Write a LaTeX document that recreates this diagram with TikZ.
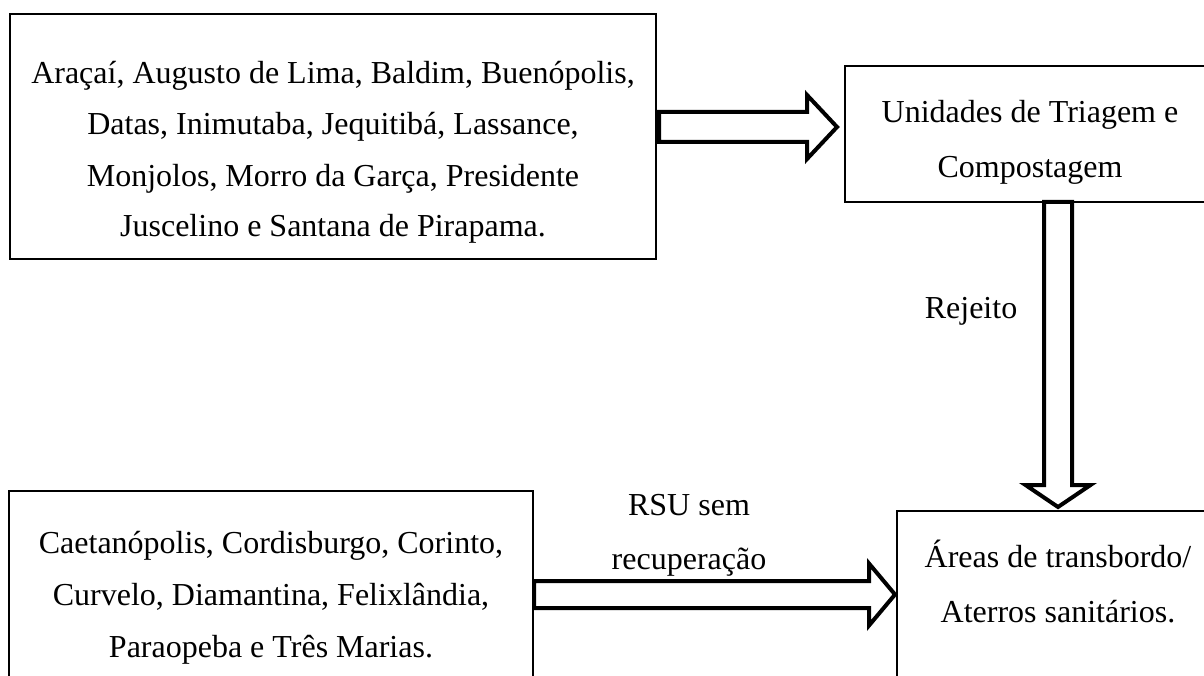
\documentclass[tikz,border=0pt]{standalone}
\usepackage{fontspec}
\setmainfont{Liberation Serif}
\usetikzlibrary{calc}

% horizontal block arrow: start, tip, half shaft width, half head width, head length
\newcommand\hblockarrow[5]{%
  \draw[blockarrow] ($(#1)+(0,-#3)$) -- ($(#2)+(-#5,-#3)$) -- ($(#2)+(-#5,-#4)$)
    -- (#2) -- ($(#2)+(-#5,#4)$) -- ($(#2)+(-#5,#3)$) -- ($(#1)+(0,#3)$) -- cycle;}
% vertical (downward) block arrow: start, tip, half shaft width, half head width, head length
\newcommand\vblockarrow[5]{%
  \draw[blockarrow] ($(#1)+(-#3,0)$) -- ($(#2)+(-#3,-#5)$) -- ($(#2)+(-#4,-#5)$)
    -- (#2) -- ($(#2)+(#4,-#5)$) -- ($(#2)+(#3,-#5)$) -- ($(#1)+(#3,0)$) -- cycle;}

\begin{document}
\begin{tikzpicture}[x=1pt,y=-1pt,
  box/.style={draw=black, line width=1.2pt, inner sep=0pt, outer sep=0pt, anchor=north west},
  txt/.style={inner sep=0pt, align=center, anchor=base},
  blockarrow/.style={draw=black, fill=white, line width=4pt, line join=miter, miter limit=10}]
  \useasboundingbox (0,0) rectangle (1204,676);
  \clip (0,0) rectangle (1204,676);

  % boxes
  \node[box, minimum width=646pt, minimum height=245pt] (b1) at (10,14) {};
  \node[box, minimum width=370pt, minimum height=136pt] (b2) at (845,66) {};
  \node[box, minimum width=524pt, minimum height=220pt] (b3) at (9,491) {};
  \node[box, minimum width=322pt, minimum height=220pt] (b4) at (897,511) {};

  % box texts (placed by the baseline of their last line)
  \node[txt, font=\fontsize{32pt}{51pt}\selectfont] (t1) at (333,237)
    {Araçaí, Augusto de Lima, Baldim, Buenópolis,\\Datas, Inimutaba, Jequitibá, Lassance,\\Monjolos, Morro da Garça, Presidente\\Juscelino e Santana de Pirapama.};
  \node[txt, font=\fontsize{32pt}{55pt}\selectfont] (t2) at (1030,178)
    {Unidades de Triagem e\\Compostagem};
  \node[txt, font=\fontsize{32pt}{52pt}\selectfont] (t3) at (271,657)
    {Caetanópolis, Cordisburgo, Corinto,\\Curvelo, Diamantina, Felixlândia,\\Paraopeba e Três Marias.};
  \node[txt, font=\fontsize{32pt}{55pt}\selectfont] (t4) at (1058,622)
    {Áreas de transbordo/\\Aterros sanitários.};

  % arrow labels
  \node[txt, font=\fontsize{32pt}{54pt}\selectfont] (lrsu) at (689,569)
    {RSU sem\\recuperação};
  \node[txt, font=\fontsize{32pt}{54pt}\selectfont] (lrej) at (971,318) {Rejeito};

  % arrow end points
  \coordinate (a1s) at ($(b1.east |- 0,127)+(3,0)$);
  \coordinate (a1e) at ($(b2.west |- 0,127)+(-8,0)$);
  \coordinate (a2s) at ($(b2.south west)+(213,0)$);
  \coordinate (a2e) at ($(a2s |- b4.north)+(0,-4)$);
  \coordinate (a3s) at ($(b3.north east)+(1,103.5)$);
  \coordinate (a3e) at ($(b4.west |- a3s)+(-2,0)$);

  % block arrows
  \hblockarrow{a1s}{a1e}{15}{32}{30}
  \vblockarrow{a2s}{a2e}{14}{32.5}{22}
  \hblockarrow{a3s}{a3e}{13.5}{31}{26}
\end{tikzpicture}
\end{document}
